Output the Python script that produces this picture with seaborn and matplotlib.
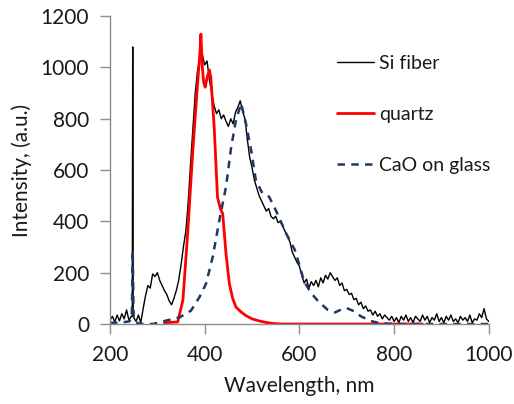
import numpy as np
import pandas as pd
import seaborn as sns
import matplotlib.pyplot as plt

# Si fiber spectrum, 5 nm steps from 200 to 1000 nm (rows of 50 nm)
si_wl = list(range(200, 1001, 5))
si_val = [
    15, 30, 8, 35, 12, 40, 20, 55, 15, 30,
    25, 10, 35, 5, 60, 110, 150, 140, 195, 185,
    200, 170, 150, 130, 115, 90, 75, 100, 130, 170,
    230, 300, 360, 470, 620, 760, 900, 990, 1035, 1050,
    1010, 1025, 950, 900, 850, 820, 835, 800, 815, 790,
    770, 800, 780, 825, 845, 870, 830, 800, 720, 650,
    610, 560, 530, 500, 480, 460, 440, 450, 420, 410,
    420, 395, 400, 380, 360, 340, 320, 280, 260, 240,
    225, 190, 160, 175, 140, 165, 150, 170, 145, 180,
    160, 190, 175, 200, 185, 170, 180, 150, 160, 130,
    135, 115, 120, 95, 100, 75, 85, 60, 70, 50,
    55, 35, 50, 30, 40, 20, 35, 25, 15, 30,
    10, 25, 5, 30, 15, 35, 10, 25, 5, 30,
    20, 10, 35, 15, 30, 5, 25, 15, 40, 10,
    25, 5, 30, 15, 35, 10, 20, 5, 30, 15,
    25, 10, 35, 5, 20, 15, 40, 25, 60, 20,
    10,
]
# narrow laser line
spike_wl = [247, 248, 249]
spike_val = [30, 1080, 30]

quartz_wl = [315, 343, 354, 364, 375, 385, 390, 392, 395, 398, 401, 405, 410,
             413, 420, 427, 433, 438, 445, 452, 459, 466, 476, 487, 500, 515,
             530, 545, 560, 860]
quartz_val = [5, 8, 93, 353, 678, 938, 1060, 1130, 1000, 940, 923, 960, 990,
              960, 768, 495, 450, 430, 274, 158, 100, 66, 48, 33, 20, 12,
              6, 2, 0, 0]

cao_wl = [200, 220, 240, 246, 248, 250, 255, 270, 290, 318, 347, 371, 389,
          403, 417, 431, 445, 456, 466, 477, 487, 498, 508, 522, 536, 550,
          572, 590, 600, 610, 625, 640, 660, 675, 690, 700, 715, 730, 750,
          770, 800, 1000]
cao_val = [5, 5, 10, 20, 288, 20, 5, 0, 0, 13, 26, 52, 105,
           158, 262, 405, 535, 690, 795, 860, 782, 678, 561, 509, 496, 444,
           353, 290, 230, 165, 120, 88, 55, 45, 58, 62, 50, 30, 12,
           3, 0, 0]

si = pd.DataFrame({'wl': si_wl + spike_wl, 'val': si_val + spike_val}).sort_values('wl')
quartz = pd.DataFrame({'wl': quartz_wl, 'val': quartz_val})
cao = pd.DataFrame({'wl': cao_wl, 'val': cao_val})

sns.set_style('ticks')
plt.rcParams['font.family'] = ['Lato', 'DejaVu Sans']
text_col = '#1a1a1a'
axis_col = '#8c8c8c'

fig = plt.figure(figsize=(5.14, 4.04), dpi=100)
ax = fig.add_axes([0.214, 0.198, 0.737, 0.762])

sns.lineplot(data=si, x='wl', y='val', ax=ax, color='black', lw=1.0,
             estimator=None, sort=False, label='Si fiber')
sns.lineplot(data=quartz, x='wl', y='val', ax=ax, color='#ff0000', lw=2.0,
             estimator=None, label='quartz')
sns.lineplot(data=cao, x='wl', y='val', ax=ax, color='#1f3864', lw=1.8,
             estimator=None, label='CaO on glass', dashes=False)
ax.lines[-1].set_linestyle((0, (3, 2.5)))

ax.set_xlim(200, 1000)
ax.set_ylim(0, 1200)
ax.set_xticks(np.arange(200, 1001, 200))
ax.set_yticks(np.arange(0, 1201, 200))
ax.set_xlabel('Wavelength, nm', fontsize=15, color=text_col, labelpad=8)
ax.set_ylabel('Intensity, (a.u.)', fontsize=15, color=text_col, labelpad=6)

sns.despine(ax=ax)
for s in ['left', 'bottom']:
    ax.spines[s].set_color(axis_col)
    ax.spines[s].set_linewidth(1.0)
ax.tick_params(axis='both', length=7, width=1.0, color=axis_col,
               labelsize=15, labelcolor=text_col, pad=8)

leg = ax.legend(loc='upper left', bbox_to_anchor=(0.579, 0.899), frameon=False,
                fontsize=14, handlelength=1.9, handletextpad=0.25,
                labelspacing=1.75, borderaxespad=0)
for t in leg.get_texts():
    t.set_color(text_col)

fig.savefig('out.png', dpi=100)
plt.close(fig)
